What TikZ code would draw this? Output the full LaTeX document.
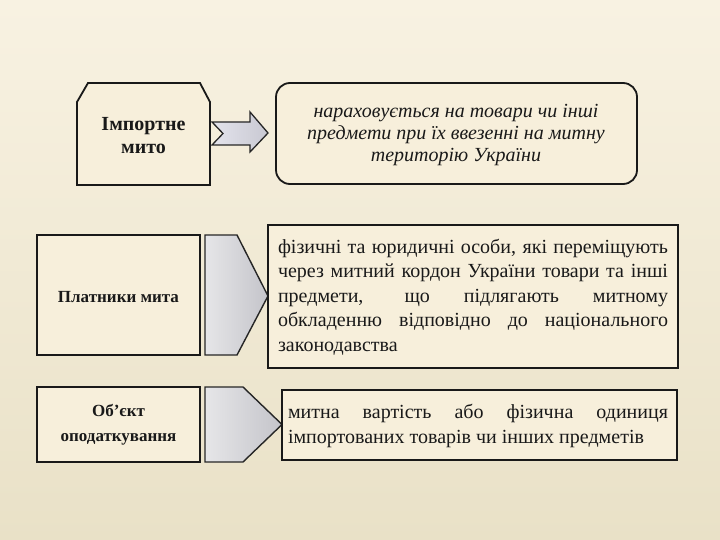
\documentclass[tikz,border=0pt]{standalone}
\usepackage{fontspec}
\setmainfont{Liberation Serif}
\begin{document}
\begin{tikzpicture}[x=1pt,y=-1pt,
  boxline/.style={draw=black!90,line width=1.8pt},
  lbl/.style={font=\fontsize{17}{25}\selectfont\bfseries,align=center,text=black!90},
  body/.style={font=\fontsize{20}{24.5}\selectfont,align=justify,text=black!90,inner sep=0pt},
  chev/.style={draw=black!85,line width=1.4pt,left color=chevL,right color=chevR}]
\definecolor{bgtop}{HTML}{F8F2E2}
\definecolor{bgbot}{HTML}{E9E1C7}
\definecolor{boxfill}{HTML}{F7EFDB}
\definecolor{chevL}{HTML}{E6E6E8}
\definecolor{chevR}{HTML}{C4C4CA}
\definecolor{arrL}{HTML}{E4E4EC}
\definecolor{arrR}{HTML}{C8C8D2}
\useasboundingbox (0,0) rectangle (720,540);
\shade[top color=bgtop,bottom color=bgbot] (0,0) rectangle (720,540);

% row 1
\draw[boxline,fill=boxfill] (77,102) -- (88,83) -- (200,83) -- (210,102) -- (210,185) -- (77,185) -- cycle;
\node[lbl,font=\fontsize{20}{23}\selectfont\bfseries] (imp) at (143.5,136) {Імпортне\\мито};
\draw[line width=1.3pt,draw=black!85,left color=arrL,right color=arrR]
  (212,122) -- (250,122) -- (250,112) -- (268,133) -- (250,152) -- (250,145) -- (212,145) -- (223,133.5) -- cycle;
\draw[boxline,fill=boxfill,rounded corners=14pt] (276,83) rectangle (637,184);
\node[font=\fontsize{20}{22}\selectfont\itshape,align=center,text=black!90] (impd) at (456,135)
  {нараховується на товари чи інші\\предмети при їх ввезенні на митну\\територію України};

% row 2
\draw[boxline,fill=boxfill] (37,235) rectangle (200,355);
\node[lbl] (pl) at (118.5,297) {Платники мита};
\draw[chev] (205,235) -- (237,235) -- (268,296) -- (237,355) -- (205,355) -- cycle;
\draw[boxline,fill=boxfill] (268,225) rectangle (678,368);
\node[body,text width=390pt] (pld) at (473,297)
  {фізичні та юридичні особи, які переміщують\linebreak через митний кордон України товари та інші\linebreak предмети, що підлягають митному\linebreak обкладенню відповідно до національного\linebreak законодавства};

% row 3
\draw[boxline,fill=boxfill] (37,387) rectangle (200,462);
\node[lbl] (ob) at (118.5,425) {Об’єкт\\оподаткування};
\draw[chev] (205,387) -- (243,387) -- (282,424.5) -- (243,462) -- (205,462) -- cycle;
\draw[boxline,fill=boxfill] (282,390) rectangle (677,460);
\node[body,text width=380pt] (obd) at (478,426)
  {митна вартість або фізична одиниця\linebreak імпортованих товарів чи інших предметів};
\end{tikzpicture}
\end{document}
